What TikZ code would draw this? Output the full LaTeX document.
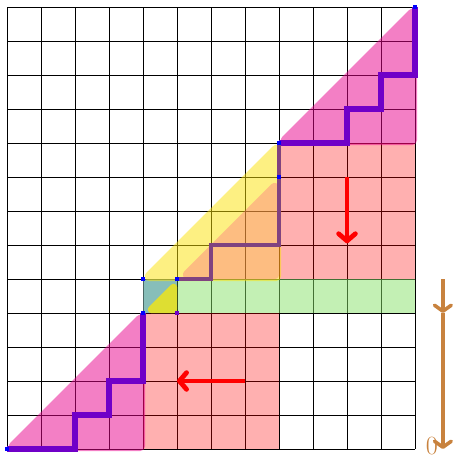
\documentclass[tikz,border=0pt]{standalone}
\usetikzlibrary{arrows.meta}
\definecolor{pinkc}{RGB}{232,0,140}
\definecolor{salmc}{RGB}{255,0,0}
\definecolor{orc}{RGB}{255,73,130}
\definecolor{greenc}{RGB}{135,225,105}
\definecolor{tealc}{RGB}{135,190,185}
\definecolor{yellc}{RGB}{251,225,5}
\definecolor{olivey}{RGB}{222,222,50}
\definecolor{purpc}{RGB}{112,0,200}
\definecolor{dimpurp}{RGB}{128,66,128}
\definecolor{brownc}{RGB}{200,130,62}
\definecolor{dotblue}{RGB}{0,0,255}
\tikzset{
  gridline/.style={draw=black, line width=0.6pt},
  salmfill/.style={fill=salmc, fill opacity=0.31},
  greenfill/.style={fill=greenc, fill opacity=0.5},
  tealfill/.style={fill=tealc},
  roundtri/.style={line width=0.28cm, line join=round},
  smalltri/.style={fill=olivey, draw=olivey, line width=0.2cm, line join=round},
  purpline/.style={draw=purpc, line width=4.2pt},
  dimline/.style={draw=dimpurp, line width=3.6pt},
  redarrow/.style={draw=red, line width=4pt, -{Straight Barb[round,length=6pt,width=14pt]}},
  brownarrow/.style={draw=brownc, line width=3pt, -{Straight Barb[round,length=5pt,width=14pt]}},
  bdot/.style={fill=dotblue}
}
\begin{document}
\begin{tikzpicture}[x=1cm,y=1cm]
\useasboundingbox (-0.206,-0.294) rectangle (13.206,13.206);
% grid
\draw[gridline] (0,0) grid (12,13);
% rectangles
\fill[salmfill] (4,0) rectangle (8,4);
\fill[salmfill] (8,5) rectangle (12,9);
\fill[greenfill] (5,4) rectangle (12,5);
\fill[tealfill] (4,4) rectangle (5,5);
\draw[black, line width=0.6pt, opacity=0.45] (4,4) rectangle (5,5);
% pink triangles
\begin{scope}[transparency group, opacity=0.5]
  \filldraw[roundtri, fill=pinkc, draw=pinkc] (0.193,0.08) -- (3.92,0.08) -- (3.92,3.807) -- cycle;
\end{scope}
\begin{scope}[transparency group, opacity=0.5]
  \filldraw[roundtri, fill=pinkc, draw=pinkc] (8.193,9.08) -- (11.92,9.08) -- (11.92,12.807) -- cycle;
\end{scope}
% middle triangles
\begin{scope}[transparency group, opacity=0.5]
  \filldraw[roundtri, fill=yellc, draw=yellc] (4.193,5.08) -- (7.92,5.08) -- (7.92,8.807) -- cycle;
\end{scope}
\begin{scope}[transparency group, opacity=0.3]
  \filldraw[roundtri, fill=orc, draw=orc] (5.314,5.13) -- (7.87,5.13) -- (7.87,7.686) -- cycle;
\end{scope}
\filldraw[smalltri] (4.241,4.1) -- (4.9,4.1) -- (4.9,4.759) -- cycle;
% staircase paths
\draw[purpline] (0,0) -| (2,1) -| (3,2) -| (4,4);
\draw[purpline] (8,9) -| (10,10) -| (11,11) -| (12,13);
\draw[dimline] (5,5) -| (6,6) -| (8,9);
% end dots
\foreach \p in {(0,0),(4,4),(4,5),(5,5),(8,8),(8,9),(12,13)}
  \fill[bdot] \p ++(-0.07,-0.07) rectangle ++(0.14,0.14);
\fill[purpc] (5,4) ++(-0.06,-0.06) rectangle ++(0.12,0.12);
% red arrows
\coordinate (ra1) at (10,8);
\coordinate (rb1) at (10,6.05);
\coordinate (ra2) at (7,2);
\coordinate (rb2) at (5,2);
\draw[redarrow] (ra1) -- (rb1);
\draw[redarrow] (ra2) -- (rb2);
% brown arrows
\coordinate (ba) at (12.82,5);
\coordinate (bb) at (12.82,4);
\coordinate (bc) at (12.82,0);
\draw[brownarrow] (ba) -- (bb);
\draw[brownarrow] (bb) -- (bc);
\node[text=brownc, font=\fontsize{22}{22}\selectfont, inner sep=0pt] (zero) at (12.5,0.08) {0};
\end{tikzpicture}
\end{document}
